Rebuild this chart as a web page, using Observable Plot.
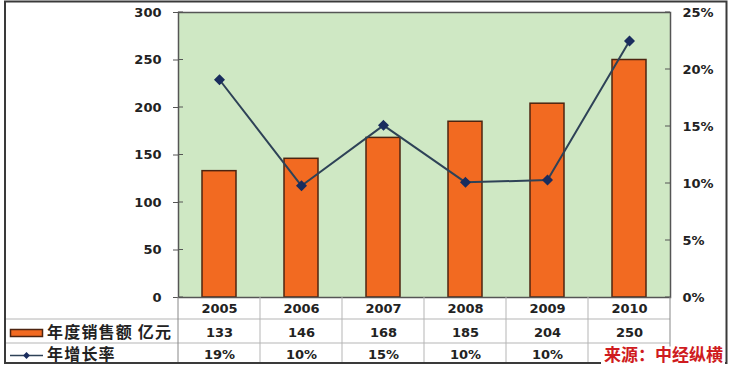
<!DOCTYPE html>
<html><head><meta charset="utf-8">
<script src="https://cdn.jsdelivr.net/npm/d3@7"></script>
<script src="https://cdn.jsdelivr.net/npm/@observablehq/plot@0.6"></script>
<style>
html,body{margin:0;padding:0;background:#fff;}
#chart{width:729px;height:369px;}
</style></head><body><div id="chart"></div>
<script>
const years = ["2005","2006","2007","2008","2009","2010"];
const sales = [133,146,168,185,204,250];
const growth = [19.1,9.8,15.1,10.1,10.3,22.5];
const leftTicks = [0,50,100,150,200,250,300];
const rightTicks = [0,5,10,15,20,25];
const salesLabel = "年度销售额 亿元";
const growthLabel = "年增长率";
const sourceText = "来源：中经纵横";

const data = years.map((y,i)=>({year:y, sales:sales[i], growth:growth[i]}));
const K = 300/25;
const NUM = "'DejaVu Sans', sans-serif";
const CJK = "'Noto Sans CJK SC', sans-serif";
// table row layout (pixel offsets below the zero line)
const ROWS = [0, 22, 46, 66];
const ROWMID = [11, 35.5, 57.5];

function tableGrid(index, scales, values, dims) {
  const x = scales.x, y = scales.y;
  const bw = x.bandwidth();
  const top = y(0);
  const left = 5, right = dims.width - dims.marginRight, plotLeft = dims.marginLeft;
  const g = d3.create("svg:g").attr("text-anchor", "start");
  // inward ticks
  g.selectAll("line.tl").data(leftTicks).join("line")
    .attr("x1", plotLeft).attr("x2", plotLeft + 5).attr("y1", d => y(d)).attr("y2", d => y(d))
    .attr("stroke", "#555");
  g.selectAll("line.tr").data(rightTicks).join("line")
    .attr("x1", right - 5).attr("x2", right).attr("y1", d => y(d*K)).attr("y2", d => y(d*K))
    .attr("stroke", "#555");
  g.selectAll("line.h").data([top+ROWS[1], top+ROWS[2]]).join("line")
    .attr("x1", left).attr("x2", right).attr("y1", d=>d).attr("y2", d=>d)
    .attr("stroke", "#b5b5b5").attr("stroke-width", 1);
  const xs = years.map(v => x(v)).concat([x(years[years.length-1]) + bw]);
  g.selectAll("line.v").data(xs).join("line")
    .attr("x1", d=>d).attr("x2", d=>d).attr("y1", top).attr("y2", top+ROWS[3])
    .attr("stroke", (d,i)=> i===0 || i===xs.length-1 ? "#888" : "#b5b5b5").attr("stroke-width", 1);
  // legend swatches
  const r2 = top + ROWMID[1], r3 = top + ROWMID[2] + 1;
  g.append("rect").attr("x", 10.5).attr("y", r2-3).attr("width", 32).attr("height", 7)
    .attr("fill", "#f26a21").attr("stroke", "#4d2410").attr("stroke-width", 1.5);
  g.append("line").attr("x1", 10).attr("x2", 43).attr("y1", r3).attr("y2", r3)
    .attr("stroke", "#2e4257").attr("stroke-width", 1.5);
  g.append("path").attr("d", d3.symbol(d3.symbolDiamond2, 30)()).attr("transform", `translate(26.5,${r3})`)
    .attr("fill", "#1a2d5e");
  g.selectAll("text").data([[salesLabel, r2],[growthLabel, r3 - 1]]).join("text")
    .attr("x", 47).attr("y", d=>d[1]).attr("dy", "0.35em").attr("text-anchor", "start")
    .attr("font-family", CJK).attr("font-size", 16).attr("font-weight", "bold").attr("fill", "#222")
    .attr("letter-spacing", 1.2)
    .text(d=>d[0]);
  // outer border
  g.append("path").attr("d", `M5,${top+ROWS[3]}V1.5H726.5V${top+ROWS[3]}Z`)
    .attr("fill", "none").attr("stroke", "#3a3a3a").attr("stroke-width", 2);
  return g.node();
}

function sourceMark(index, scales, values, dims) {
  const g = d3.create("svg:g");
  const yy = scales.y(0) + ROWMID[2] + 1;
  g.append("rect").attr("x", 601).attr("y", yy-9).attr("width", 124).attr("height", 18).attr("fill", "white");
  g.append("text").attr("x", 723).attr("y", yy).attr("dy", "0.35em").attr("text-anchor", "end")
    .attr("font-family", CJK).attr("font-size", 17).attr("font-weight", "bold").attr("fill", "#cf1b20")
    .text(sourceText);
  return g.node();
}

const txt = {frameAnchor: "bottom", lineAnchor: "middle"};
const plot = Plot.plot({
  width: 729, height: 369,
  marginLeft: 178, marginRight: 59, marginTop: 12, marginBottom: 72,
  style: {fontFamily: NUM, fontWeight: "bold", fontSize: "13px", color: "#222", background: "white", overflow: "visible"},
  x: {type: "band", domain: years, padding: 0, axis: null},
  y: {domain: [0, 300], axis: null},
  marks: [
    Plot.frame({fill: "#cfe8c4"}),
    Plot.barY(data, {x: "year", y: "sales", fill: "#f26a21", stroke: "#4d2410", strokeWidth: 1.5, insetLeft: 24, insetRight: 24}),
    Plot.line(data, {x: "year", y: d => d.growth*K, stroke: "#2e4257", strokeWidth: 2}),
    Plot.dot(data, {x: "year", y: d => d.growth*K, symbol: "diamond2", r: 4, fill: "#1a2d5e", stroke: "#1a2d5e"}),
    Plot.axisY(leftTicks, {anchor: "left", tickSize: 5, tickPadding: 12, label: null, stroke: "#555"}),
    Plot.axisY(rightTicks.map(d => d*K), {anchor: "right", tickSize: 0, tickPadding: 12, label: null, stroke: "#555", tickFormat: d => `${Math.round(d/K)}%`}),
    Plot.frame({stroke: "#555", strokeWidth: 1.5}),
    tableGrid,
    Plot.text(data, {...txt, x: "year", text: "year", dy: ROWMID[0]}),
    Plot.text(data, {...txt, x: "year", text: d => String(d.sales), dy: ROWMID[1]}),
    Plot.text(data.slice(0, -1), {...txt, x: "year", text: d => `${Math.round(d.growth)}%`, dy: ROWMID[2]}),
    sourceMark
  ]
});
document.getElementById("chart").append(plot);
</script></body></html>
